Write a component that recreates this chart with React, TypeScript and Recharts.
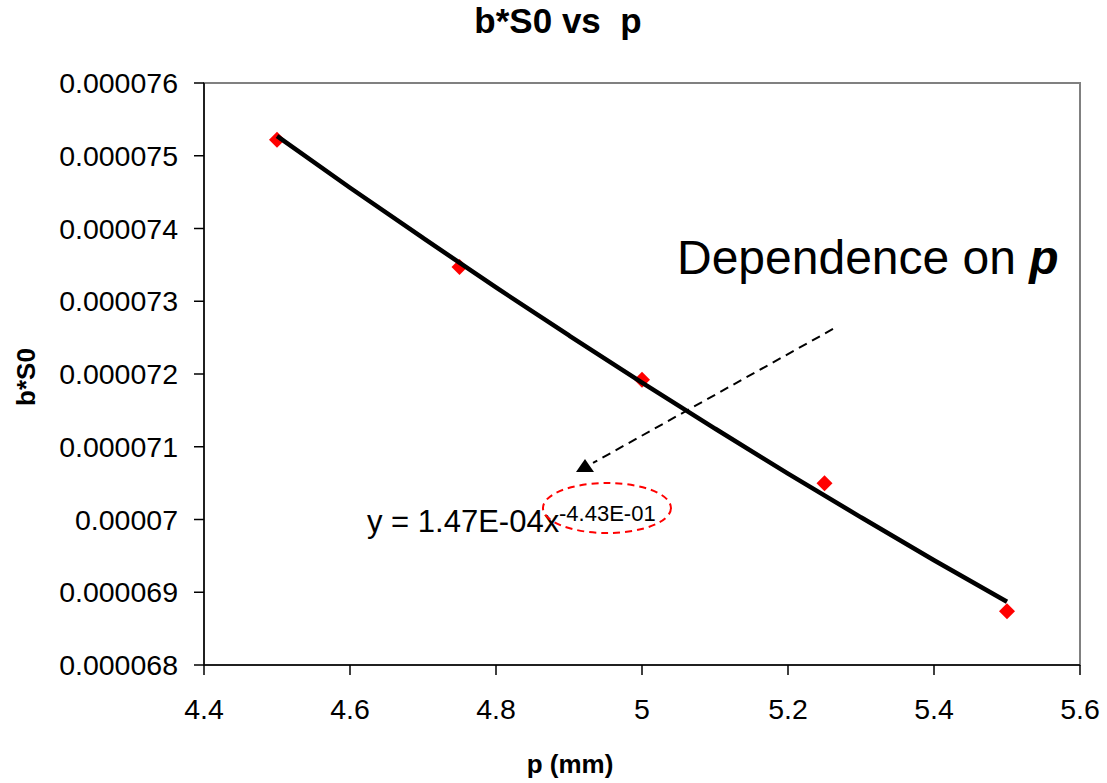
import React from 'react';
import {
  ScatterChart, Scatter, XAxis, YAxis, ReferenceArea, ReferenceLine, ReferenceDot, Customized,
} from 'recharts';

const FONT = '"Liberation Sans", Arial, sans-serif';

// measured points (p in mm, b*S0)
const pValues = [4.5, 4.75, 5.0, 5.25, 5.5];
const bS0Values = [0.00007522, 0.00007347, 0.00007192, 0.0000705, 0.00006874];

// power trendline
const trendP = [4.5, 4.6, 4.7, 4.8, 4.9, 5.0, 5.1, 5.2, 5.3, 5.4, 5.5];
const trendValues = [
  0.00007527, 0.00007456, 0.00007387, 0.00007319, 0.00007253, 0.00007188,
  0.00007125, 0.00007063, 0.00007003, 0.00006944, 0.00006887,
];

const xTicks = [4.4, 4.6, 4.8, 5, 5.2, 5.4, 5.6];
const yTicks = [0.000068, 0.000069, 0.00007, 0.000071, 0.000072, 0.000073, 0.000074, 0.000075, 0.000076];

// annotation anchors (data coordinates)
const arrowFrom = { x: 5.2616, y: 0.000072619 };
const arrowTo = { x: 4.9329, y: 0.000070777 };
const arrowHead = { x: 4.9219, y: 0.000070722 };
const exponentRing = { x: 4.952, y: 0.000070158 };

const points = pValues.map((p, i) => ({ x: p, y: bS0Values[i] }));
const trend = trendP.map((p, i) => ({ x: p, y: trendValues[i] }));

const Diamond = (props: any) => {
  const { cx, cy } = props;
  const r = 8;
  return <path d={`M${cx},${cy - r} L${cx + r},${cy} L${cx},${cy + r} L${cx - r},${cy} Z`} fill="#ff0000" />;
};

const Texts = () => (
  <g fontFamily={FONT} fill="#000">
    <text x={558} y={33} fontSize={35} fontWeight="bold" textAnchor="middle" style={{ whiteSpace: 'pre' }}>
      b*S0 vs  p
    </text>
    <text x={570} y={773} fontSize={26} fontWeight="bold" textAnchor="middle">p (mm)</text>
    <text x={35} y={377} fontSize={26} fontWeight="bold" textAnchor="middle" transform="rotate(-90, 35, 377)">
      b*S0
    </text>
    <text x={677} y={274} fontSize={48}>
      Dependence on <tspan fontWeight="bold" fontStyle="italic">p</tspan>
    </text>
    <text x={367} y={532} fontSize={31}>y = 1.47E-04x</text>
    <text x={559} y={521} fontSize={22}>-4.43E-01</text>
  </g>
);

export default function App() {
  return (
    <div style={{ position: 'absolute', left: 0, top: 0, background: '#fff' }}>
      <ScatterChart width={1107} height={783} margin={{ top: 83, right: 27, bottom: 58, left: 0 }}>
        <ReferenceArea x1={4.4} x2={5.6} y1={0.000068} y2={0.000076} fill="none" stroke="#808080" strokeWidth={2} />
        <XAxis
          type="number"
          dataKey="x"
          domain={[4.4, 5.6]}
          ticks={xTicks}
          height={60}
          tickSize={10}
          tickMargin={24}
          axisLine={{ stroke: '#000', strokeWidth: 1.5 }}
          tickLine={{ stroke: '#000', strokeWidth: 1.5 }}
          tick={{ fill: '#000', fontSize: 28.5, fontFamily: FONT }}
          tickFormatter={(v) => String(v)}
        />
        <YAxis
          type="number"
          dataKey="y"
          domain={[0.000068, 0.000076]}
          ticks={yTicks}
          width={204}
          tickSize={10}
          tickMargin={16}
          axisLine={{ stroke: '#000', strokeWidth: 1.5 }}
          tickLine={{ stroke: '#000', strokeWidth: 1.5 }}
          tick={{ fill: '#000', fontSize: 28.5, fontFamily: FONT }}
          tickFormatter={(v) => String(v)}
        />
        <Scatter data={points} shape={Diamond} isAnimationActive={false} />
        <Scatter
          data={trend}
          line={{ stroke: '#000', strokeWidth: 4.5 }}
          lineJointType="monotoneX"
          shape={() => <g />}
          isAnimationActive={false}
        />
        <ReferenceLine
          segment={[arrowFrom, arrowTo]}
          stroke="#000"
          strokeWidth={2}
          strokeDasharray="9 6"
        />
        <ReferenceDot
          x={arrowHead.x}
          y={arrowHead.y}
          shape={(p: any) => (
            <path d={`M${p.cx},${p.cy - 8} L${p.cx + 9},${p.cy + 5} L${p.cx - 9},${p.cy + 5} Z`} fill="#000" />
          )}
        />
        <ReferenceDot
          x={exponentRing.x}
          y={exponentRing.y}
          shape={(p: any) => (
            <ellipse cx={p.cx} cy={p.cy} rx={64} ry={25} fill="none" stroke="#ff0000" strokeWidth={2} strokeDasharray="7 5" />
          )}
        />
        <Customized component={Texts} />
      </ScatterChart>
    </div>
  );
}
